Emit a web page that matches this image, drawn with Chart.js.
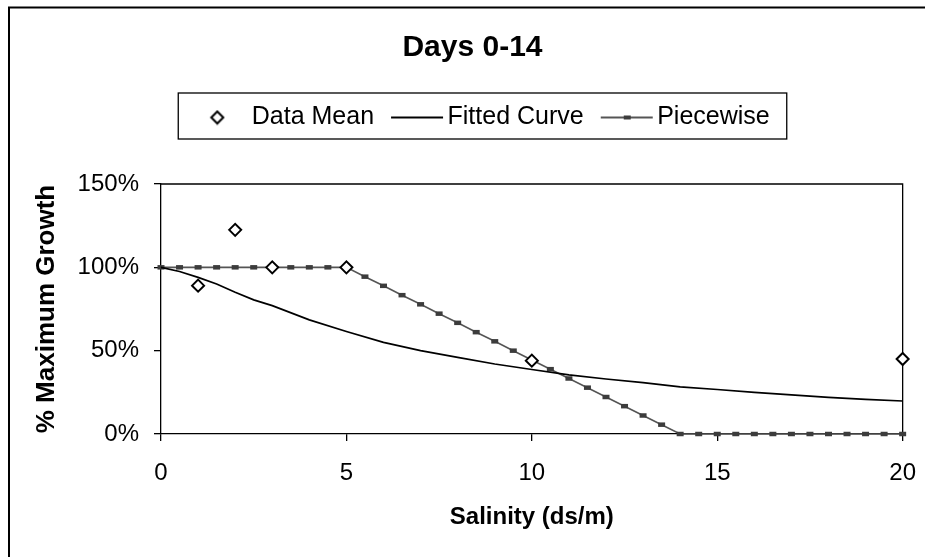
<!DOCTYPE html>
<html>
<head>
<meta charset="utf-8">
<title>Days 0-14</title>
<script src="https://cdn.jsdelivr.net/npm/chart.js@4.4.1/dist/chart.umd.min.js"></script>
<style>
  html, body { margin: 0; padding: 0; background: #fff; }
  #chart { display: block; }
</style>
</head>
<body>
<canvas id="chart" width="925" height="557"></canvas>
<script>
// ===== Days 0-14 : growth vs salinity =====
// Values (percent of maximum growth).

const meanX = [1, 2, 3, 5, 10, 20];
const meanY = [89, 122.5, 100, 100, 44, 45];

const fitX = [0, 0.5, 1, 1.5, 2, 2.5, 3, 4, 5, 6, 7, 8, 9, 10, 11, 12, 13, 14, 15, 16, 17, 18, 19, 20];
const fitY = [100, 97.5, 94, 90, 85, 80.5, 77, 68.5, 61.5, 55, 50, 46, 42, 38.7, 35.5, 33, 30.8, 28.3, 26.7, 25, 23.5, 22, 20.8, 19.8];

const pieceX = [0, 0.5, 1, 1.5, 2, 2.5, 3, 3.5, 4, 4.5, 5,
  5.5, 6, 6.5, 7, 7.5, 8, 8.5, 9, 9.5, 10, 10.5, 11, 11.5, 12, 12.5, 13, 13.5, 14,
  14.5, 15, 15.5, 16, 16.5, 17, 17.5, 18, 18.5, 19, 19.5, 20];
const pieceY = [100, 100, 100, 100, 100, 100, 100, 100, 100, 100, 100,
  94.4, 88.9, 83.3, 77.8, 72.2, 66.7, 61.1, 55.6, 50, 44.4, 38.9, 33.3, 27.8, 22.2, 16.7, 11.1, 5.6, 0,
  0, 0, 0, 0, 0, 0, 0, 0, 0, 0, 0, 0];

const xTicks = [0, 5, 10, 15, 20];
const yTicks = [0, 50, 100, 150];

const LEGEND_GAP = 44;   // empty space under the legend row
const LEGEND_SHIFT = 10; // legend sits a little right of the title

Chart.defaults.font.family = '"Liberation Sans", Arial, sans-serif';
Chart.defaults.color = '#000';

const toPoints = (xs, ys) => xs.map((x, i) => ({ x, y: ys[i] }));

// ---- legend sample icons ----
function icon(w, h, paint) {
  const c = document.createElement('canvas');
  c.width = w;
  c.height = h;
  paint(c.getContext('2d'));
  return c;
}

const legendIcons = [
  icon(16, 16, (g) => {
    g.beginPath();
    g.moveTo(8, 2); g.lineTo(14, 8); g.lineTo(8, 14); g.lineTo(2, 8);
    g.closePath();
    g.fillStyle = '#fff'; g.fill();
    g.lineWidth = 2; g.strokeStyle = '#000'; g.stroke();
  }),
  icon(62, 6, (g) => {
    g.fillStyle = '#000';
    g.fillRect(9, 2, 52, 2);
  }),
  icon(62, 8, (g) => {
    g.fillStyle = '#555';
    g.fillRect(9, 3, 52, 2);
    g.fillStyle = '#3c3c3c';
    g.fillRect(32, 2, 7, 4);
  }),
];

// ---- plugins: frames and legend box ----
const frames = {
  id: 'frames',
  beforeDraw(chart) {
    const ctx = chart.ctx;
    ctx.save();
    ctx.strokeStyle = '#000';
    ctx.lineWidth = 2;
    ctx.beginPath();
    ctx.moveTo(9, chart.height + 5);
    ctx.lineTo(9, 7.5);
    ctx.lineTo(chart.width + 5, 7.5);
    ctx.stroke();
    ctx.restore();
  },
  beforeDatasetsDraw(chart) {
    const { ctx, chartArea: a } = chart;
    ctx.save();
    ctx.strokeStyle = '#000';
    ctx.lineWidth = 1.3;
    ctx.beginPath();
    ctx.moveTo(a.left, a.top);
    ctx.lineTo(a.right, a.top);
    ctx.lineTo(a.right, a.bottom);
    ctx.stroke();
    ctx.restore();
  },
};

const legendTweak = {
  id: 'legendTweak',
  beforeUpdate(chart) {
    const legend = chart.legend;
    if (!legend || legend._tweaked) return;
    legend._tweaked = true;
    const fit = legend.fit;
    legend.fit = function () {
      fit.call(this);
      this.height += LEGEND_GAP;
    };
    const draw = legend.draw;
    legend.draw = function (area) {
      const ctx = this.ctx;
      ctx.save();
      ctx.translate(LEGEND_SHIFT, 0);
      draw.call(this, area);
      const hb = this.legendHitBoxes;
      const first = hb[0];
      const last = hb[hb.length - 1];
      const left = first.left - 17;
      const right = last.left + last.width + 17;
      ctx.strokeStyle = '#000';
      ctx.lineWidth = 1.3;
      ctx.strokeRect(left, first.top - 12, right - left, 46);
      ctx.restore();
    };
  },
};

// ---- chart ----
new Chart(document.getElementById('chart'), {
  type: 'line',
  data: {
    datasets: [
      {
        label: 'Data Mean',
        data: toPoints(meanX, meanY),
        showLine: false,
        pointStyle: 'rectRot',
        pointRadius: 6,
        pointBorderWidth: 2,
        pointBorderColor: '#000',
        pointBackgroundColor: '#fff',
        clip: false,
      },
      {
        label: 'Fitted Curve',
        data: toPoints(fitX, fitY),
        borderColor: '#000',
        borderWidth: 1.7,
        pointRadius: 0,
        tension: 0,
        clip: false,
      },
      {
        label: 'Piecewise',
        data: toPoints(pieceX, pieceY),
        borderColor: '#555',
        borderWidth: 1.6,
        pointStyle: 'line',
        pointRadius: 3.5,
        pointBorderWidth: 4.5,
        pointBorderColor: '#3c3c3c',
        pointBackgroundColor: '#3c3c3c',
        tension: 0,
        clip: false,
      },
    ],
  },
  options: {
    responsive: false,
    animation: false,
    events: [],
    layout: { padding: { left: 34, right: 14, top: 0, bottom: 0 } },
    plugins: {
      tooltip: { enabled: false },
      title: {
        display: true,
        text: 'Days 0-14',
        color: '#000',
        font: { size: 30, weight: 'bold' },
        padding: { top: 30, bottom: 22 },
      },
      legend: {
        position: 'top',
        labels: {
          usePointStyle: true,
          pointStyleWidth: 44,
          padding: 17,
          color: '#000',
          font: { size: 25 },
          generateLabels(chart) {
            const items = Chart.defaults.plugins.legend.labels.generateLabels(chart);
            items.forEach((item, i) => { item.pointStyle = legendIcons[i]; });
            return items;
          },
        },
      },
    },
    scales: {
      x: {
        type: 'linear',
        min: xTicks[0],
        max: xTicks[xTicks.length - 1],
        // small padding keeps the right overflow narrow; the tall line height pushes labels down
        ticks: { stepSize: xTicks[1] - xTicks[0], padding: 9, maxRotation: 0, color: '#000', font: { size: 24, lineHeight: 1.92 } },
        grid: { drawOnChartArea: false, tickLength: 7, color: '#000', lineWidth: 1.3 },
        border: { color: '#000', width: 1.3 },
        title: {
          display: true,
          text: 'Salinity (ds/m)',
          color: '#000',
          font: { size: 24, weight: 'bold' },
          padding: { top: 0, bottom: 25 },
        },
        afterFit(scale) { scale.height = 123; },
      },
      y: {
        min: yTicks[0],
        max: yTicks[yTicks.length - 1],
        ticks: { stepSize: yTicks[1] - yTicks[0], padding: 15, color: '#000', font: { size: 24 }, callback: (v) => v + '%' },
        grid: { drawOnChartArea: false, tickLength: 7, color: '#000', lineWidth: 1.3 },
        border: { color: '#000', width: 1.3 },
        title: {
          display: true,
          text: '% Maximum Growth',
          color: '#000',
          font: { size: 26, weight: 'bold' },
          padding: { top: -3, bottom: 0 },
        },
        afterFit(scale) { scale.width = 127; },
      },
    },
  },
  plugins: [frames, legendTweak],
});
</script>
</body>
</html>
